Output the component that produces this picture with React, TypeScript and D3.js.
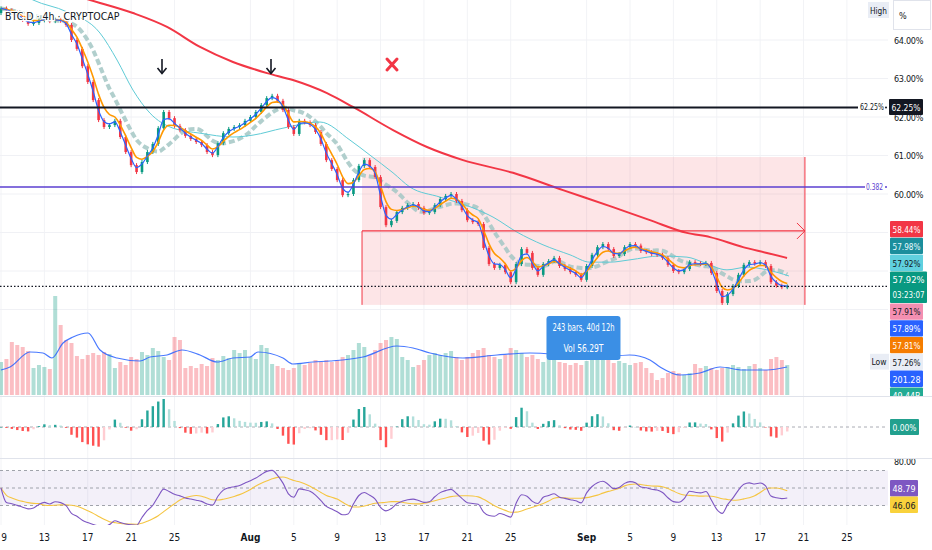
import * as d3 from "d3";

// 12h closes (BTC dominance, %)
const firstOpen = 64.7;
const closes = [
  64.82, 64.77, 64.71, 64.62, 64.52, 64.42, 64.44, 64.51, 64.55, 64.49,
  64.53, 64.5, 64.39, 64.0, 63.77, 63.32, 62.91, 62.44, 61.92, 61.74,
  61.79, 61.9, 61.48, 61.09, 60.75, 60.57, 60.83, 61.09, 61.3, 61.71,
  62.13, 61.97, 61.77, 61.66, 61.51, 61.43, 61.35, 61.27, 61.09, 61.01,
  61.32, 61.58, 61.69, 61.74, 61.79, 61.9, 62.0, 62.13, 62.31, 62.49,
  62.55, 62.42, 62.18, 61.74, 61.56, 61.9, 61.86, 61.79, 61.61, 61.3,
  60.88, 60.65, 60.36, 59.97, 60.0, 60.36, 60.73, 60.88, 60.7, 60.44,
  59.66, 59.19, 59.3, 59.53, 59.64, 59.71, 59.74, 59.64, 59.51, 59.53,
  59.71, 59.87, 59.95, 60.0, 59.82, 59.58, 59.32, 59.27, 59.22, 58.6,
  58.18, 58.08, 58.16, 57.97, 57.71, 58.18, 58.57, 58.47, 58.08, 57.9,
  58.18, 58.26, 58.34, 58.13, 58.05, 57.97, 57.9, 57.77, 58.13, 58.42,
  58.62, 58.7, 58.57, 58.39, 58.44, 58.62, 58.7, 58.66, 58.52, 58.49,
  58.44, 58.42, 58.34, 58.16, 58.0, 57.97, 58.05, 58.23, 58.2, 58.18,
  58.21, 57.95, 57.48, 57.17, 57.4, 57.61, 57.9, 58.16, 58.23, 58.19,
  58.23, 58.13, 57.71, 57.62, 57.58, 57.6,
];

const volumes = [
  33, 36, 53, 50, 48, 44, 27, 30, 28, 26,
  99, 70, 55, 52, 39, 36, 40, 42, 40, 43,
  41, 27, 33, 30, 38, 36, 43, 40, 47, 44,
  38, 35, 58, 55, 27, 29, 27, 31, 29, 37,
  35, 39, 37, 45, 42, 45, 38, 36, 50, 47,
  31, 29, 27, 25, 27, 32, 30, 32, 35, 33,
  35, 33, 35, 38, 40, 45, 52, 48, 40, 45,
  52, 55, 58, 56, 38, 35, 28, 30, 35, 40,
  42, 40, 42, 44, 38, 35, 38, 42, 45, 47,
  40, 38, 36, 40, 47, 45, 42, 38, 40, 36,
  33, 36, 35, 33, 32, 30, 32, 30, 34, 37,
  38, 35, 37, 32, 34, 32, 30, 32, 33, 27,
  22, 15, 17, 22, 24, 22, 20, 22, 31, 27,
  29, 27, 25, 27, 28, 30, 28, 26, 29, 31,
  27, 25, 36, 38, 35, 30,
];

// [day offset from Jul 9, value]
const ma200: [number, number][] = [
  [0, 65.75], [8.21, 65.04], [12.17, 64.7], [15.31, 64.34], [18.35, 63.82],
  [21.39, 63.43], [24.53, 63.14], [26.92, 62.96], [30.06, 62.62], [32.46, 62.26],
  [36.15, 61.66], [39.28, 61.22], [42.6, 60.88], [47.21, 60.55], [51.82, 60.1],
  [56.43, 59.66], [59.84, 59.32], [63.25, 58.99], [65.38, 58.88], [68.42, 58.62],
  [70.63, 58.47], [72.48, 58.34],
];
const ma50: [number, number][] = [
  [0, 65.56], [2.95, 65.04], [6.09, 64.73], [9.13, 64.18], [10.7, 63.48],
  [12.17, 62.7], [13.74, 62.1], [15.86, 61.71], [18.35, 61.58], [21.39, 61.48],
  [23.24, 61.53], [26.0, 61.71], [29.41, 61.87], [32.18, 61.4], [34.02, 61.01],
  [36.15, 60.55], [37.71, 60.18], [40.48, 59.92], [43.52, 59.64], [45.37, 59.4],
  [47.58, 59.01], [49.98, 58.68], [52.47, 58.42], [54.31, 58.23], [56.16, 58.23],
  [58.0, 58.29], [60.76, 58.39], [63.25, 58.36], [64.73, 58.23], [66.94, 58.03],
  [68.79, 58.1], [70.63, 58.03], [72.66, 57.87],
];
const volMa: [number, number][] = [
  [0, 25], [0.83, 28], [2.67, 43], [3.87, 42], [4.7, 37], [5.72, 52], [6.64, 58],
  [8.02, 62], [9.13, 45], [10.7, 37], [12.82, 34], [13.74, 38], [15.31, 40],
  [16.69, 45], [18.35, 40], [19.92, 33], [21.39, 37], [22.96, 38], [23.7, 43],
  [26.0, 37], [26.92, 31], [28.77, 33], [30.34, 34], [33.38, 38], [36.51, 49],
  [37.99, 47], [39.56, 42], [42.6, 37], [45.74, 40], [48.78, 42], [51.82, 40],
  [54.96, 37], [57.96, 40], [59.84, 35], [60.77, 28], [62.61, 20], [64.45, 22],
  [66.3, 28], [68.42, 25], [70.63, 25], [72.48, 28],
];

const tickDates = [
  "2025-07-09", "2025-07-13", "2025-07-17", "2025-07-21", "2025-07-25",
  "2025-08-01", "2025-08-05", "2025-08-09", "2025-08-13", "2025-08-17",
  "2025-08-21", "2025-08-25", "2025-09-01", "2025-09-05", "2025-09-09",
  "2025-09-13", "2025-09-17", "2025-09-21", "2025-09-25",
];
const priceTicks = [57, 58, 59, 60, 61, 62, 63, 64];
const priceLabels = [60, 61, 62, 63, 64];

const resistance = 62.25;
const fibLevel = 60.18;
const measure = { from: 33.29, to: 74.13, top: 60.96, bottom: 57.12, mid: 59.04 };
const measureText = ["243 bars, 40d 12h", "Vol 56.29T"];

const badges = [
  { t: "58.44%", bg: "#f23645", fg: "#fff" },
  { t: "57.98%", bg: "#1b8e9c", fg: "#e6fbff" },
  { t: "57.92%", bg: "#5fd0de", fg: "#131722" },
  { t: "57.92%", t2: "03:23:07", bg: "#089981", fg: "#fff" },
  { t: "57.91%", bg: "#f48fb1", fg: "#131722" },
  { t: "57.89%", bg: "#2962ff", fg: "#fff" },
  { t: "57.81%", bg: "#f57c00", fg: "#fff" },
  { t: "57.26%", bg: "#e9edf5", fg: "#131722", side: "Low" },
  { t: "201.28", bg: "#2962ff", fg: "#fff" },
  { t: "49.44B", bg: "#22ab94", fg: "#fff" },
];

const W = 932;
const H = 550;
const PR = 888;
const FONT = "'Liberation Sans Narrow', 'DejaVu Sans Condensed', Roboto, sans-serif";

const t0 = new Date(2025, 6, 9);
const DAY = 864e5;
const dayDate = (d: number) => new Date(t0.getTime() + d * DAY);
const barDate = (k: number) => new Date(t0.getTime() + (k * DAY) / 2);

const x = d3.scaleTime().domain([t0, new Date(2025, 8, 25)]).range([1, 846.9]);
const yP = d3.scaleLinear().domain([60, 64]).range([194, 40]);
const yV = d3.scaleLinear().domain([0, 100]).range([395, 295]);
const yR = d3.scaleLinear().domain([30, 70]).range([505.5, 470.5]);

function ema(v: number[], n: number) {
  const a = 2 / (n + 1);
  const out: number[] = [];
  v.forEach((d, i) => out.push(i ? a * d + (1 - a) * out[i - 1] : d));
  return out;
}
function sma(v: number[], n: number) {
  return v.map((_, i) => d3.mean(v.slice(Math.max(0, i - n + 1), i + 1)) as number);
}
function rsi(v: number[], n: number) {
  let ag = 0, al = 0;
  const out: number[] = [50];
  for (let i = 1; i < v.length; i++) {
    const ch = v[i] - v[i - 1];
    const g = Math.max(ch, 0), l = Math.max(-ch, 0);
    if (i === 1) { ag = g + 0.05; al = l + 0.05; } else { ag = (ag * (n - 1) + g) / n; al = (al * (n - 1) + l) / n; }
    out.push(al === 0 ? 100 : 100 - 100 / (1 + ag / al));
  }
  return out;
}

const opens = closes.map((c, i) => (i ? closes[i - 1] : firstOpen));
const fast = ema(closes, 2);
const mid = ema(closes, 4);
const slowDash = sma(closes, 8);
const slowEma = ema(closes, 9);
const macd = ema(closes, 4).map((d, i) => d - slowEma[i]);
const signal = ema(macd, 3);
const hist = macd.map((d, i) => d - signal[i]);
const hMax = d3.max(hist, (d) => Math.abs(d)) as number;
const yM = d3.scaleLinear().domain([-hMax, hMax]).range([455, 399]);
const rsiVals = rsi(closes, 11);
const rsiMa = sma(rsiVals, 8);

const barLine = (sc: (n: number) => number) =>
  d3.line<number>().x((_, i) => x(barDate(i))).y((d) => sc(d)).curve(d3.curveMonotoneX);
const ptLine = (sc: (n: number) => number) =>
  d3.line<[number, number]>().x((d) => x(dayDate(d[0]))).y((d) => sc(d[1])).curve(d3.curveMonotoneX);

const fmtTick = (d: Date) => (d.getDate() === 1 ? d3.timeFormat("%b")(d) : String(d.getDate()));

function Badge({ x0, y0, w, h, bg, fg, lines }: { x0: number; y0: number; w: number; h: number; bg: string; fg: string; lines: string[] }) {
  return (
    <g>
      <rect x={x0} y={y0} width={w} height={h} rx={1} fill={bg} />
      {lines.map((t, i) => (
        <text key={i} x={x0 + 2.5} y={y0 + 12 + i * 15} fontSize={9.5} fill={fg}
          textLength={w - 5} lengthAdjust="spacingAndGlyphs">{t}</text>
      ))}
    </g>
  );
}

export default function App() {
  const bx0 = x(dayDate(measure.from));
  const bx1 = x(dayDate(measure.to));
  const lastY = yP(closes[closes.length - 1]);
  const tipX = (bx0 + bx1) / 2;
  let by = 221;
  const badgeRows = badges.map((b) => {
    const h = b.t2 ? 32 : 16.8;
    const row = { ...b, y: by, h };
    by += h;
    return row;
  });
  return (
    <div style={{ position: "absolute", left: 0, top: 0 }}>
      <svg width={W} height={H} style={{ display: "block", background: "#fff", fontFamily: FONT }}>
        <defs>
          <clipPath id="mainClip"><rect x={0} y={0} width={PR} height={396} /></clipPath>
          <clipPath id="macdClip"><rect x={0} y={397} width={PR} height={60} /></clipPath>
          <clipPath id="rsiClip"><rect x={0} y={459} width={W} height={66} /></clipPath>
          <clipPath id="badgeClip"><rect x={860} y={0} width={72} height={396} /></clipPath>
        </defs>

        {/* grid */}
        {tickDates.map((s) => (
          <line key={s} x1={x(new Date(s + "T00:00"))} x2={x(new Date(s + "T00:00"))} y1={0} y2={525} stroke="#f2f3f6" />
        ))}
        {priceTicks.map((p) => (
          <line key={p} x1={0} x2={PR} y1={yP(p)} y2={yP(p)} stroke="#f0f1f5" />
        ))}

        <g clipPath="url(#mainClip)">
          {/* measure box */}
          <rect x={bx0} y={yP(measure.top)} width={bx1 - bx0} height={yP(measure.bottom) - yP(measure.top)} fill="rgba(242,54,69,0.13)" />

          {/* volume */}
          {volumes.map((v, i) => (
            <rect key={i} x={x(barDate(i)) - 2} y={yV(v)} width={4} height={yV(0) - yV(v)}
              fill={closes[i] >= opens[i] ? "rgba(8,153,129,0.32)" : "rgba(242,54,69,0.32)"} />
          ))}
          <path d={ptLine(yV)(volMa) || ""} fill="none" stroke="#2962ff" strokeWidth={1.2} opacity={0.85} />

          {/* slow dashed line */}
          <path d={barLine(yP)(slowDash) || ""} fill="none" stroke="#a3c7c4" strokeWidth={4} strokeDasharray="6 3" opacity={0.85} />
          <path d={ptLine(yP)(ma50) || ""} fill="none" stroke="#5fcbd6" strokeWidth={1} />

          {/* candles */}
          {closes.map((c, i) => {
            const o = opens[i];
            const cx = x(barDate(i));
            const y1 = yP(Math.max(o, c));
            const y2 = yP(Math.min(o, c));
            const col = c >= o ? "#089981" : "#f23645";
            return (
              <g key={i}>
                <line x1={cx} x2={cx} y1={y1 - 2} y2={y2 + 2} stroke={col} strokeWidth={1} />
                <rect x={cx - 1.3} y={y1} width={2.6} height={Math.max(1, y2 - y1)} fill={col} />
              </g>
            );
          })}

          <path d={barLine(yP)(mid) || ""} fill="none" stroke="#ff9800" strokeWidth={1.6} />
          <path d={barLine(yP)(fast) || ""} fill="none" stroke="#2962ff" strokeWidth={1.2} />
          <path d={ptLine(yP)(ma200) || ""} fill="none" stroke="#f23645" strokeWidth={2} />

          {/* measure lines */}
          <line x1={bx0} x2={bx0} y1={yP(measure.mid)} y2={yP(measure.bottom)} stroke="#f23645" />
          <line x1={bx1} x2={bx1} y1={yP(measure.top)} y2={yP(measure.bottom)} stroke="#f23645" />
          <line x1={bx0} x2={bx1} y1={yP(measure.mid)} y2={yP(measure.mid)} stroke="#f23645" strokeWidth={1.2} />
          <path d={`M${bx1 - 8},${yP(measure.mid) - 8}L${bx1},${yP(measure.mid)}L${bx1 - 8},${yP(measure.mid) + 8}`} fill="none" stroke="#f23645" />

          {/* levels */}
          <line x1={0} x2={858} y1={yP(resistance)} y2={yP(resistance)} stroke="#131722" strokeWidth={2} />
          <line x1={0} x2={865} y1={yP(fibLevel)} y2={yP(fibLevel)} stroke="#5b3fd1" strokeWidth={1.5} />
          <line x1={0} x2={PR} y1={lastY} y2={lastY} stroke="#131722" strokeWidth={1.2} strokeDasharray="1.5 2" />

          {/* annotations */}
          {[162, 271].map((ax) => (
            <g key={ax} stroke="#131722" strokeWidth={1.6} fill="none">
              <line x1={ax} x2={ax} y1={59} y2={73} />
              <path d={`M${ax - 4.5},${68}L${ax},${73.5}L${ax + 4.5},${68}`} />
            </g>
          ))}
          <g stroke="#f23645" strokeWidth={3} strokeLinecap="round">
            <line x1={387} x2={397} y1={59} y2={70} />
            <line x1={397} x2={387} y1={59} y2={70} />
          </g>

          <text x={5} y={20} fontSize={10.5} fill="#131722" stroke="#fff" strokeWidth={2.5} paintOrder="stroke">
            BTC.D · 4h · CRYPTOCAP
          </text>
        </g>

        {/* measure tooltip */}
        <g>
          <rect x={tipX - 37} y={316} width={74} height={44} rx={3} fill="#3b8fe5" />
          <text x={tipX - 31} y={331} fontSize={10} fill="#fff" textLength={62} lengthAdjust="spacingAndGlyphs">{measureText[0]}</text>
          <text x={tipX - 20} y={352} fontSize={10} fill="#fff" textLength={40} lengthAdjust="spacingAndGlyphs">{measureText[1]}</text>
        </g>

        {/* pane separators */}
        <line x1={0} x2={W} y1={396.5} y2={396.5} stroke="#e0e3eb" />
        <line x1={0} x2={W} y1={458.5} y2={458.5} stroke="#e0e3eb" />

        {/* MACD histogram */}
        <g clipPath="url(#macdClip)">
          <line x1={0} x2={PR} y1={yM(0)} y2={yM(0)} stroke="#9598a1" strokeDasharray="3 3" strokeWidth={0.8} />
          {hist.map((h, i) => {
            const prev = i ? hist[i - 1] : 0;
            const col = h >= 0 ? (h >= prev ? "#26a69a" : "#b2dfdb") : h < prev ? "#ff5252" : "#ffcdd2";
            return (
              <rect key={i} x={x(barDate(i)) - 1.2} y={Math.min(yM(h), yM(0))} width={2.4}
                height={Math.max(0.5, Math.abs(yM(h) - yM(0)))} fill={col} />
            );
          })}
        </g>

        {/* RSI */}
        <g clipPath="url(#rsiClip)">
          <rect x={0} y={yR(70)} width={PR} height={yR(30) - yR(70)} fill="rgba(126,87,194,0.09)" />
          {[70, 50, 30].map((v) => (
            <line key={v} x1={0} x2={PR} y1={yR(v)} y2={yR(v)} stroke="#9598a1" strokeDasharray="3 3" strokeWidth={0.9} />
          ))}
          <path d={barLine(yR)(rsiMa) || ""} fill="none" stroke="#f5c542" strokeWidth={1.1} />
          <path d={barLine(yR)(rsiVals) || ""} fill="none" stroke="#7e57c2" strokeWidth={1.1} />
          <text x={894} y={yR(80) + 3.5} fontSize={9} fill="#131722" letterSpacing={-0.3}>80.00</text>
        </g>

        {/* price axis labels */}
        {priceLabels.map((p) => (
          <text key={p} x={894} y={yP(p) + 3.5} fontSize={9} fill="#131722" letterSpacing={-0.3}>
            {p.toFixed(2)}%
          </text>
        ))}
        <text x={860} y={yP(resistance) + 3} fontSize={9} fill="#131722" textLength={24} lengthAdjust="spacingAndGlyphs">62.25%</text>
        <circle cx={886} cy={yP(resistance)} r={1} fill="#131722" />
        <Badge x0={889} y0={yP(resistance) - 8.5} w={34} h={16} bg="#131722" fg="#fff" lines={["62.25%"]} />
        <text x={866} y={yP(fibLevel) + 3} fontSize={9} fill="#5b3fd1" textLength={17} lengthAdjust="spacingAndGlyphs">0.382</text>
        <circle cx={886} cy={yP(fibLevel)} r={1} fill="#5b3fd1" />

        <g clipPath="url(#badgeClip)">
          {badgeRows.map((b, i) => (
            <g key={i}>
              {b.side && (
                <g>
                  <rect x={870} y={b.y} width={19} height={b.h - 1} fill="#e9edf5" />
                  <text x={871.5} y={b.y + 11.5} fontSize={9.5} fill="#131722" textLength={15} lengthAdjust="spacingAndGlyphs">{b.side}</text>
                </g>
              )}
              <Badge x0={890} y0={b.y} w={b.t2 ? 37 : 33} h={b.h - 0.5} bg={b.bg} fg={b.fg}
                lines={b.t2 ? [b.t, b.t2] : [b.t]} />
            </g>
          ))}
        </g>

        <Badge x0={890} y0={yM(0) - 8} w={29} h={16} bg="#22a08e" fg="#fff" lines={["0.00%"]} />
        <Badge x0={890} y0={480} w={28} h={16.5} bg="#7e57c2" fg="#fff" lines={["48.79"]} />
        <Badge x0={890} y0={496.5} w={28} h={16.5} bg="#f9d23c" fg="#131722" lines={["46.06"]} />

        {/* top-right */}
        <rect x={868} y={2} width={21} height={16} fill="#e9edf5" />
        <text x={870} y={14} fontSize={9.5} fill="#131722" textLength={17} lengthAdjust="spacingAndGlyphs">High</text>
        <rect x={893.5} y={0.5} width={37} height={29} fill="#fff" stroke="#e0e3eb" />
        <text x={899} y={19} fontSize={9} fill="#131722">%</text>

        {/* date axis */}
        {tickDates.map((s) => {
          const d = new Date(s + "T00:00");
          return (
            <text key={s} x={Math.max(4, x(d))} y={541} fontSize={10} textAnchor="middle"
              fill="#131722" fontWeight={d.getDate() === 1 ? "bold" : "normal"}>
              {fmtTick(d)}
            </text>
          );
        })}
      </svg>
    </div>
  );
}
